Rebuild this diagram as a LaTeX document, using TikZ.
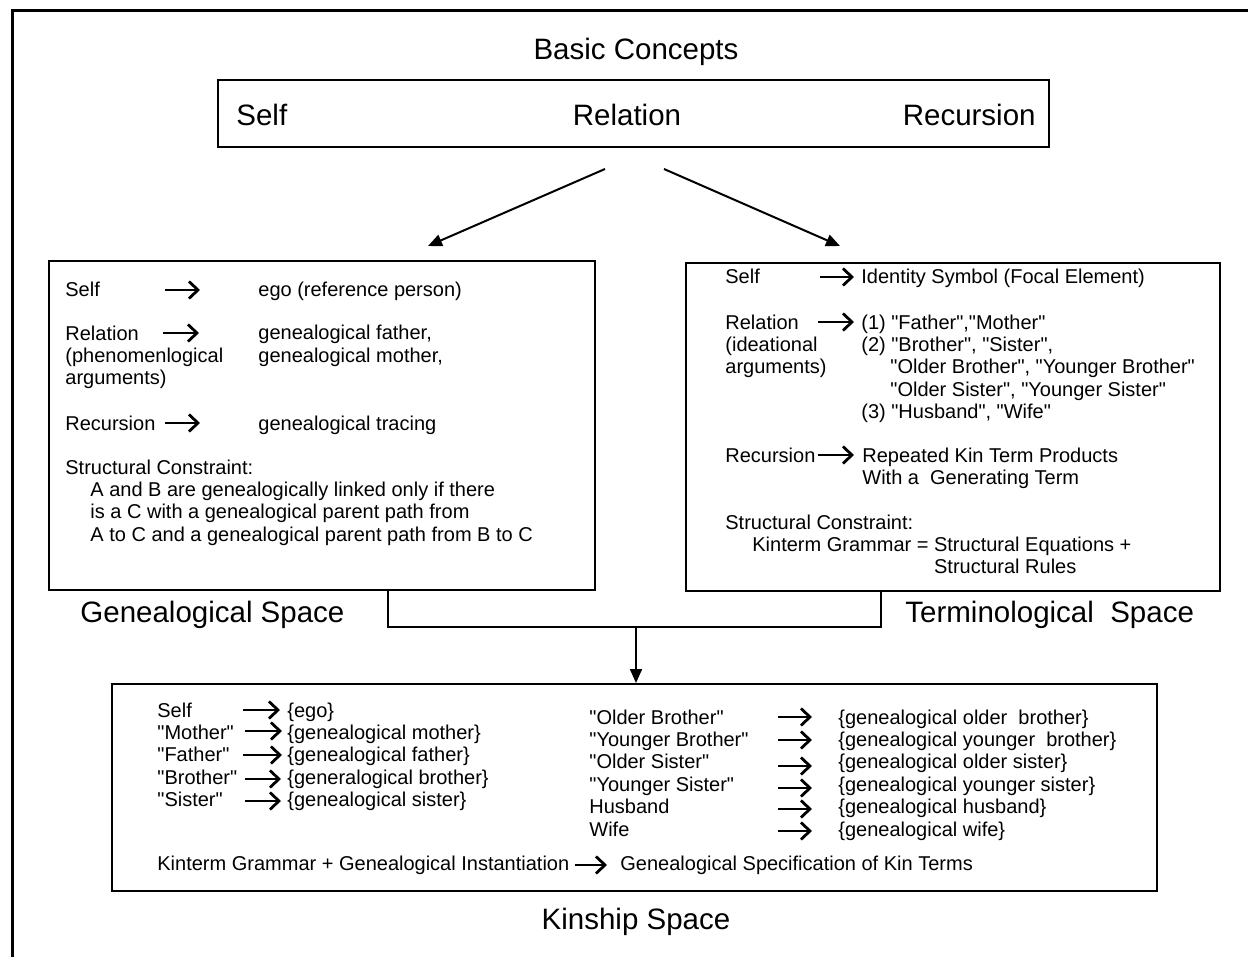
\documentclass[tikz,border=0pt]{standalone}
\usepackage{fontspec}
\newfontfamily\arialfont{Liberation Sans}
\usetikzlibrary{arrows.meta,positioning,fit,calc}

\begin{document}
\begin{tikzpicture}[x=0.5pt,y=-0.5pt,>={Triangle[length=7pt,width=6pt]},
    spacebox/.style={draw,line width=1pt,inner sep=0pt},
    big/.style={inner sep=0pt,font=\arialfont\fontsize{14.75}{17}\selectfont},
    txt/.style={anchor=base west,inner sep=0pt,font=\arialfont\fontsize{10}{11.2}\selectfont},
    maparrow/.style={-{Straight Barb[length=4.5pt,width=8.5pt]},line width=1.4pt}]
    \useasboundingbox (0,0) rectangle (1248,957);
    % frame
    \draw[line width=1.5pt] (12,957) -- (12,11) -- (1248,11);
    % basic concepts
    \node[big,anchor=base] (basic) at (636,60) {Basic Concepts};
    \node[spacebox,fit={(218,80) (1049,147)}] (top) {};
    \node[big,anchor=base west] (self) at (236,126) {Self};
    \node[big,anchor=base] (rel) at (627,126) {Relation};
    \node[big,anchor=base east] (rec) at (1036,126) {Recursion};
    % spaces
    \node[spacebox,fit={(49,261) (595,590)}] (gen) {};
    \node[spacebox,fit={(686,263) (1220,591)}] (term) {};
    \node[spacebox,fit={(112,684) (1157,891)}] (kin) {};
    \node[big,anchor=base west] (genlabel) at (80,622) {Genealogical Space};
    \node[big,anchor=base west] (termlabel) at (905,622) {Terminological\ \ Space};
    \node[big,anchor=base] (kinlabel) at (636,929) {Kinship Space};
    % arrows between spaces
    \draw[->,line width=1pt] ($(top.south)+(-28.5,21)$) -- ($(gen.north)+(106,-14)$);
    \draw[->,line width=1pt] ($(top.south)+(30.5,21)$) -- ($(term.north)+(-113,-16)$);
    \coordinate (joinl) at (388,627);
    \coordinate (joinr) at (881,627);
    \coordinate (join) at (636,627);
    \draw[line width=1pt] (joinl |- gen.south) -- (joinl) -- (joinr) -- (joinr |- term.south);
    \draw[->,line width=1pt] (join) -- (join |- kin.north);
    % genealogical space (multi-line nodes sit on their last line)
    \node[txt] (gself) at (65,297) {Self};
    \node[txt] (gego) at (258,297) {ego (reference person)};
    \node[txt,align=left] (grel) at (65,384.8) {Relation\\(phenomenlogical\\arguments)};
    \node[txt,align=left] (gparent) at (258,362.4) {genealogical father,\\genealogical mother,};
    \node[txt] (grec) at (65,430) {Recursion};
    \node[txt] (gtrace) at (258,430) {genealogical tracing};
    \node[txt] (gcon) at (65,474) {Structural Constraint:};
    \node[txt,align=left] (glink) at (90,541.3) {A and B are genealogically linked only if there\\is a C with a genealogical parent path from\\A to C and a genealogical parent path from B to C};
    \draw[maparrow] ([shift={(100,-7)}]gself.base west) -- ++(35,0);
    \draw[maparrow] ([shift={(98,-51.8)}]grel.base west) -- ++(36,0);
    \draw[maparrow] ([shift={(100,-7)}]grec.base west) -- ++(35,0);
    % terminological space
    \node[txt] (tself) at (725,284) {Self};
    \node[txt] (tident) at (861,284) {Identity Symbol (Focal Element)};
    \node[txt,align=left] (trel) at (725,373.8) {Relation\\(ideational\\arguments)};
    \node[txt,align=left] (tterms) at (861,418.6) {(1) "Father","Mother"\\(2) "Brother", "Sister",\\\hspace{14.5pt}"Older Brother", "Younger Brother"\\\hspace{14.5pt}"Older Sister", "Younger Sister"\\(3) "Husband", "Wife"};
    \node[txt] (trec) at (725,462) {Recursion};
    \node[txt,align=left] (tprod) at (862,484.4) {Repeated Kin Term Products\\With a\ \ Generating Term};
    \node[txt] (tcon) at (725,529) {Structural Constraint:};
    \node[txt,align=left] (tgram) at (752,573.9) {Kinterm Grammar = Structural Equations +\\\phantom{Kinterm Grammar = }Structural Rules};
    \draw[maparrow] ([shift={(95,-7)}]tself.base west) -- ++(34,0);
    \draw[maparrow] ([shift={(93,-51.8)}]trel.base west) -- ++(36,0);
    \draw[maparrow] ([shift={(93,-7)}]trec.base west) -- ++(36,0);
    % kinship space
    \node[txt,align=left] (klabel) at (157,806.6) {Self\\"Mother"\\"Father"\\"Brother"\\"Sister"};
    \node[txt,align=left] (kvalue) at (287,806.6) {\{ego\}\\\{genealogical mother\}\\\{genealogical father\}\\\{generalogical brother\}\\\{genealogical sister\}};
    \draw[maparrow] ([shift={(86,-96.6)}]klabel.base west) -- ++(37,0);
    \draw[maparrow] ([shift={(88,-75.6)}]klabel.base west) -- ++(37,0);
    \draw[maparrow] ([shift={(86,-51.6)}]klabel.base west) -- ++(39,0);
    \draw[maparrow] ([shift={(88,-27.6)}]klabel.base west) -- ++(36,0);
    \draw[maparrow] ([shift={(88,-5.6)}]klabel.base west) -- ++(36,0);
    \node[txt,align=left] (klabel2) at (589,836) {"Older Brother"\\"Younger Brother"\\"Older Sister"\\"Younger Sister"\\Husband\\Wife};
    \node[txt,align=left] (kvalue2) at (838,836) {\{genealogical older\ \ brother\}\\\{genealogical younger\ \ brother\}\\\{genealogical older sister\}\\\{genealogical younger sister\}\\\{genealogical husband\}\\\{genealogical wife\}};
    \draw[maparrow] ([shift={(189,-119)}]klabel2.base west) -- ++(34,0);
    \draw[maparrow] ([shift={(189,-96)}]klabel2.base west) -- ++(34,0);
    \draw[maparrow] ([shift={(189,-70)}]klabel2.base west) -- ++(34,0);
    \draw[maparrow] ([shift={(189,-48)}]klabel2.base west) -- ++(34,0);
    \draw[maparrow] ([shift={(189,-27)}]klabel2.base west) -- ++(34,0);
    \draw[maparrow] ([shift={(189,-5)}]klabel2.base west) -- ++(34,0);
    \node[txt] (kgram) at (157,870) {Kinterm Grammar + Genealogical Instantiation};
    \node[txt] (kspec) at (620,870) {Genealogical Specification of Kin Terms};
    \draw[maparrow] ([shift={(5,-5)}]kgram.base east) -- ([shift={(-13,-5)}]kspec.base west);
\end{tikzpicture}
\end{document}
